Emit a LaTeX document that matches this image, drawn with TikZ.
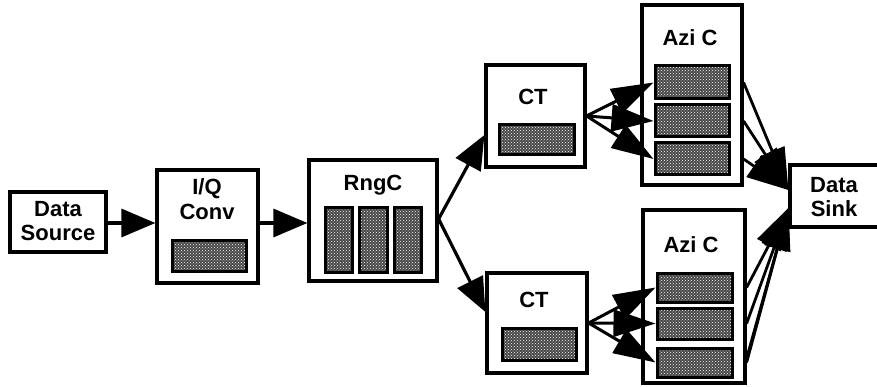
\documentclass[tikz,border=0pt]{standalone}
\usepackage{fontspec}
\setmainfont{Liberation Sans}
\usetikzlibrary{arrows.meta,patterns,calc}
\begin{document}
\begin{tikzpicture}[x=1pt,y=-1pt,
  blockbox/.style={draw,line width=3.2pt,fill=white,inner sep=0pt},
  hatchbox/.style={draw,line width=3pt,inner sep=0pt,
    preaction={fill=black!72},pattern=crosshatch dots,pattern color=white},
  lbl/.style={font=\fontsize{22}{24.5}\selectfont\bfseries,align=center,inner sep=0pt},
  flow/.style={line width=3.2pt,-{Triangle[length=34pt,width=28pt]}},
  fan/.style={line width=3pt,-{Triangle[length=42pt,width=27pt]}},
  merge/.style={line width=2.8pt,-{Triangle[length=42pt,width=26pt]}}]
\useasboundingbox (0,0) rectangle (877,387);

% source and I/Q conversion
\node[blockbox,minimum width=96pt,minimum height=60pt] (src) at (58,222) {};
\node[lbl] (srclbl) at (58,221) {Data\\Source};
\node[blockbox,minimum width=101pt,minimum height=113pt] (iq) at (207.5,226.5) {};
\node[lbl] (iqlbl) at (207,199) {I/Q\\Conv};
\node[hatchbox,minimum width=74pt,minimum height=31pt] (iqh) at (209,255.5) {};

% range compression with three parallel units
\node[blockbox,minimum width=128pt,minimum height=121pt] (rng) at (373,220.5) {};
\node[lbl] (rnglbl) at (373,185) {RngC};
\node[hatchbox,minimum width=27pt,minimum height=64pt] (r1) at (338.5,240) {};
\node[hatchbox,minimum width=28pt,minimum height=64pt] (r2) at (373,240) {};
\node[hatchbox,minimum width=27pt,minimum height=64pt] (r3) at (407.5,240) {};

% upper branch
\node[blockbox,minimum width=99pt,minimum height=102pt] (ct1) at (535.5,116) {};
\node[lbl] (ct1lbl) at (533,97) {CT};
\node[hatchbox,minimum width=75pt,minimum height=30pt] (ct1h) at (536.5,140) {};
\node[blockbox,minimum width=100pt,minimum height=180pt] (az1) at (692,95) {};
\node[lbl] (az1lbl) at (690,38) {Azi C};
\node[hatchbox,minimum width=74pt,minimum height=33pt] (a11) at (692,82.5) {};
\node[hatchbox,minimum width=74pt,minimum height=32pt] (a12) at (692,121) {};
\node[hatchbox,minimum width=74pt,minimum height=32pt] (a13) at (692,159) {};

% lower branch
\node[blockbox,minimum width=100pt,minimum height=100pt] (ct2) at (537,323) {};
\node[lbl] (ct2lbl) at (534,300) {CT};
\node[hatchbox,minimum width=74pt,minimum height=32pt] (ct2h) at (539,344) {};
\node[blockbox,minimum width=102pt,minimum height=173pt] (az2) at (694,296.5) {};
\node[lbl] (az2lbl) at (691,245) {Azi C};
\node[hatchbox,minimum width=75pt,minimum height=29pt] (a21) at (694.5,287.5) {};
\node[hatchbox,minimum width=75pt,minimum height=31pt] (a22) at (694.5,323.5) {};
\node[hatchbox,minimum width=75pt,minimum height=29pt] (a23) at (694.5,362.5) {};

% sink
\node[blockbox,minimum width=92pt,minimum height=62pt] (sink) at (836,196) {};
\node[lbl] (sinklbl) at (834,197) {Data\\Sink};

% main flow
\draw[flow] ([yshift=-1pt]src.east) -- ([yshift=-1pt]src.east -| iq.west);
\draw[flow] ([yshift=3.5pt]iq.east) -- ([yshift=3.5pt]iq.east -| rng.west);
\draw[flow] ([yshift=1.5pt]rng.east) -- ([yshift=-19pt]ct1.west);
\draw[flow] ([yshift=1.5pt]rng.east) -- ([yshift=11pt]ct2.west);

% corner turn to azimuth units
\foreach \t in {a11,a12,a13} \draw[fan] (ct1.east) -- (\t.west);
\foreach \t in {a21,a22,a23} \draw[fan] (ct2.east) -- (\t.west);

% azimuth units to sink
\coordinate (sinkin1) at ([yshift=6pt]sink.west);
\coordinate (sinkin2) at ([yshift=-12pt]sink.west);
\foreach \t in {a11,a12,a13} \draw[merge] (\t -| az1.east) -- (sinkin1);
\foreach \t in {a21,a22} \draw[merge] (\t -| az2.east) -- (sinkin2);
\draw[merge] ([yshift=4pt]a23.center -| az2.east) -- (sinkin2);
\draw[merge] (a23 -| az2.east) -- (sinkin2);
\end{tikzpicture}
\end{document}
